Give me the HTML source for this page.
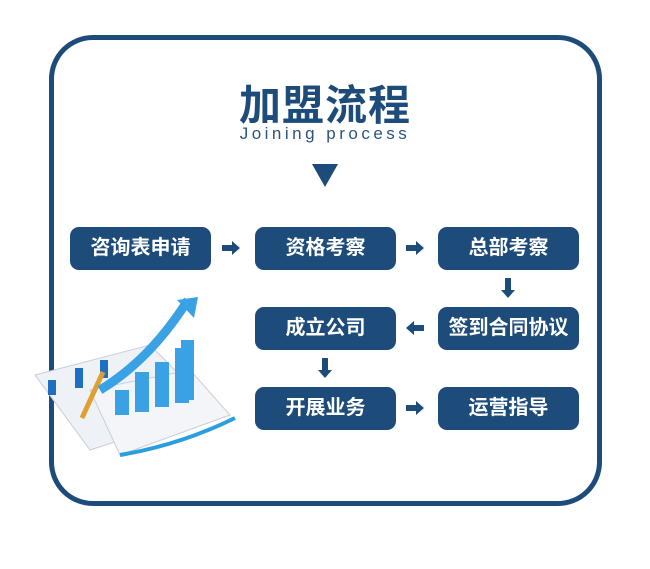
<!DOCTYPE html>
<html><head><meta charset="utf-8"><style>
body{margin:0;width:650px;height:569px;background:#fff;position:relative;overflow:hidden;font-family:"Liberation Sans","Noto Sans CJK SC",sans-serif}
.frame{position:absolute;left:49px;top:35px;width:543px;height:461px;border:5px solid #1d4b7a;border-radius:44px}
.t{position:absolute;left:0;width:650px;text-align:center;color:#1d4b7a}
.b{position:absolute;width:141px;height:43px;background:#1d4b7a;border-radius:9px;color:#fff;font-weight:bold;font-size:20px;line-height:43px;text-align:center}
svg.a{position:absolute}
</style></head><body>
<div class="frame"></div>
<div class="t" style="top:72px;font-size:42px;font-weight:bold;letter-spacing:1px">加盟流程</div>
<div class="t" style="top:124px;font-size:17px;letter-spacing:3.5px;color:#2a5580">Joining process</div>
<svg class="a" style="left:312px;top:164px" width="26" height="24"><polygon points="0,0 26,0 13,23" fill="#1d4b7a"/></svg>
<div class="b" style="left:70px;top:227px">咨询表申请</div>
<div class="b" style="left:255px;top:227px">资格考察</div>
<div class="b" style="left:438px;top:227px">总部考察</div>
<div class="b" style="left:255px;top:307px">成立公司</div>
<div class="b" style="left:438px;top:307px">签到合同协议</div>
<div class="b" style="left:255px;top:387px">开展业务</div>
<div class="b" style="left:438px;top:387px">运营指导</div>
<svg width="650" height="569" style="position:absolute;left:0;top:0">
<g fill="#1d4b7a">
<polygon points="222,245 232,245 232,241 240,248 232,255 232,251 222,251"/>
<polygon points="406,245 416,245 416,241 424,248 416,255 416,251 406,251"/>
<polygon points="406,405 416,405 416,401 424,408 416,415 416,411 406,411"/>
<polygon points="424,325 414,325 414,321 406,328 414,335 414,331 424,331"/>
<polygon points="505,278 511,278 511,290 515,290 508,298 501,290 505,290"/>
<polygon points="322,358 328,358 328,370 332,370 325,378 318,370 322,370"/>
</g>
<!-- chart -->
<polygon points="35,375 150,345 215,410 90,450" fill="#eef2f6" stroke="#ccd" />
<polygon points="90,390 190,370 230,415 120,455" fill="#f3f5f8" stroke="#ccd"/>
<path d="M120,455 Q180,445 235,418" stroke="#2a9fe0" stroke-width="4" fill="none"/>
<g fill="#1f6fc0"><rect x="48" y="380" width="8" height="15"/><rect x="75" y="368" width="8" height="20"/><rect x="100" y="360" width="8" height="18"/></g>
<g fill="#3aa2e4">
<rect x="115" y="390" width="14" height="25"/><rect x="135" y="372" width="14" height="40"/><rect x="155" y="362" width="14" height="45"/><rect x="175" y="348" width="14" height="55"/><rect x="181" y="340" width="13" height="60"/>
</g>
<line x1="82" y1="418" x2="103" y2="372" stroke="#e0a030" stroke-width="5"/>
<path d="M100,390 Q150,360 188,300" stroke="#3aa2e4" stroke-width="9" fill="none"/>
<polygon points="177,300 198,297 194,318" fill="#3aa2e4"/>
</svg>
</body></html>
